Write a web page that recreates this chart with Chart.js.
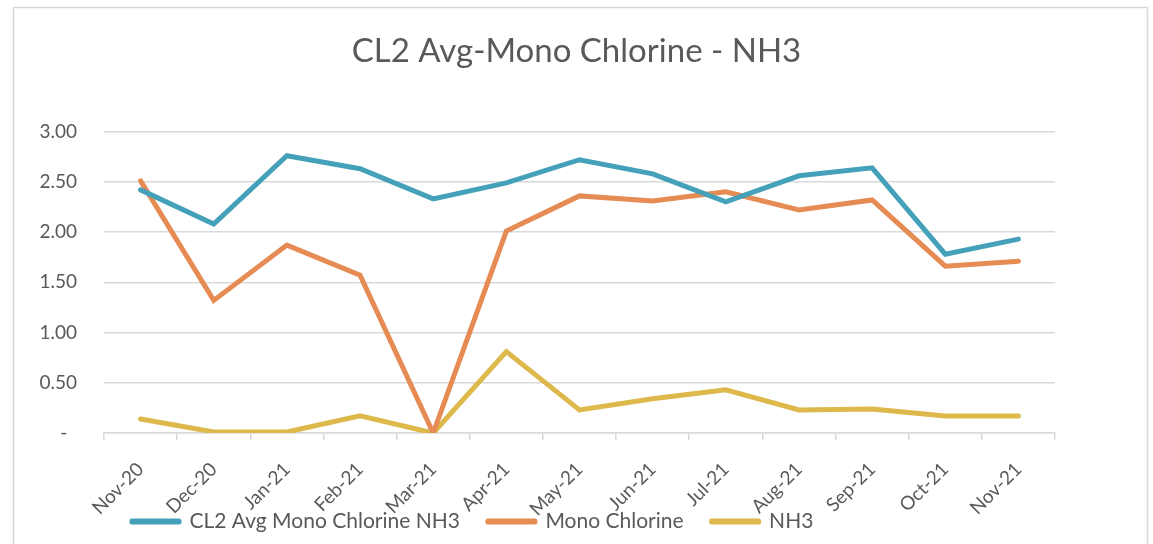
<!DOCTYPE html>
<html lang="en">
<head>
    <meta charset="UTF-8">
    <title>CL2 Avg-Mono Chlorine - NH3</title>
    <script src="https://cdn.jsdelivr.net/npm/chart.js"></script>
    <style>
        html, body { margin: 0; padding: 0; background: #fff; }
        #wrap { width: 1153px; height: 544px; }
    </style>
</head>
<body>
    <div id="wrap"><canvas id="chlorineChart" width="1153" height="544"></canvas></div>

    <script>
        // values
        const months = ['Nov-20', 'Dec-20', 'Jan-21', 'Feb-21', 'Mar-21', 'Apr-21', 'May-21',
                        'Jun-21', 'Jul-21', 'Aug-21', 'Sep-21', 'Oct-21', 'Nov-21'];
        const cl2Avg = [2.42, 2.08, 2.76, 2.63, 2.33, 2.49, 2.72, 2.58, 2.30, 2.56, 2.64, 1.78, 1.93];
        const monoChlorine = [2.51, 1.32, 1.87, 1.57, 0.00, 2.01, 2.36, 2.31, 2.40, 2.22, 2.32, 1.66, 1.71];
        const nh3 = [0.14, 0.01, 0.01, 0.17, 0.00, 0.81, 0.23, 0.34, 0.43, 0.23, 0.24, 0.17, 0.17];
        const yMin = 0, yMax = 3, yStep = 0.5;

        const textColor = '#595959';
        const gridColor = '#d9d9d9';
        const fontFamily = 'Lato, "Open Sans", sans-serif';

        // light frame around the chart, like the Excel chart area
        const frame = {
            id: 'frame',
            beforeDraw(chart) {
                const c = chart.ctx;
                c.save();
                c.fillStyle = '#fff';
                c.fillRect(0, 0, chart.width, chart.height);
                c.strokeStyle = gridColor;
                c.lineWidth = 1.5;
                c.strokeRect(13.5, 7.5, 1134, 600);
                c.restore();
            },
            // the rotated month labels run down into the legend strip, so don't clip them at the axis box
            afterLayout(chart) {
                chart.scales.x.bottom = chart.height;
            }
        };

        function series(label, data, color) {
            return {
                label: label,
                data: data,
                borderColor: color,
                backgroundColor: color,
                borderWidth: 5,
                borderCapStyle: 'round',
                borderJoinStyle: 'miter',
                pointRadius: 0,
                pointHoverRadius: 0,
                tension: 0
            };
        }

        const ctx = document.getElementById('chlorineChart').getContext('2d');
        new Chart(ctx, {
            type: 'line',
            data: {
                labels: months,
                datasets: [
                    series('CL2 Avg Mono Chlorine NH3', cl2Avg, '#44a1b9'),
                    series('Mono Chlorine', monoChlorine, '#e58b53'),
                    series('NH3', nh3, '#ddb84b')
                ]
            },
            plugins: [frame],
            options: {
                responsive: false,
                animation: false,
                layout: { padding: { left: 0, right: 0, top: 8, bottom: 2 } },
                plugins: {
                    title: {
                        display: true,
                        text: 'CL2 Avg-Mono Chlorine - NH3',
                        color: textColor,
                        font: { family: fontFamily, size: 33, weight: 'normal' },
                        padding: { top: 24, bottom: 60 }
                    },
                    legend: {
                        position: 'bottom',
                        align: 'start',
                        fullSize: false,
                        labels: {
                            color: textColor,
                            boxWidth: 47,
                            boxHeight: 1,
                            padding: 28,
                            font: { family: fontFamily, size: 21 },
                            // thin box + thick round-joined stroke = line swatch with rounded ends
                            generateLabels(chart) {
                                const items = Chart.defaults.plugins.legend.labels.generateLabels(chart);
                                items.forEach(it => { it.lineJoin = 'round'; it.lineWidth = 5; });
                                return items;
                            }
                        }
                    },
                    tooltip: { enabled: false }
                },
                scales: {
                    x: {
                        offset: true,
                        afterFit(scale) { scale.height = 50; },
                        border: { display: true, color: gridColor, width: 1.5 },
                        grid: {
                            offset: true,
                            drawOnChartArea: false,
                            drawTicks: true,
                            tickLength: 7,
                            color: gridColor,
                            lineWidth: 1.5
                        },
                        ticks: {
                            color: textColor,
                            minRotation: 45,
                            maxRotation: 45,
                            padding: 18,
                            autoSkip: false,
                            font: { family: fontFamily, size: 19 }
                        }
                    },
                    y: {
                        min: yMin,
                        max: yMax,
                        afterFit(scale) { scale.width = 104; },
                        border: { display: false },
                        grid: { color: gridColor, lineWidth: 1.5, drawTicks: false },
                        ticks: {
                            stepSize: yStep,
                            color: textColor,
                            padding: 27,
                            font: { family: fontFamily, size: 19 },
                            callback: function(value) {
                                return value === 0 ? '-  ' : value.toFixed(2);
                            }
                        }
                    },
                    // empty strip on the right so the plot ends where the original does
                    spacer: {
                        type: 'linear',
                        position: 'right',
                        min: yMin,
                        max: yMax,
                        afterFit(scale) { scale.width = 98; },
                        border: { display: false },
                        grid: { drawOnChartArea: false, drawTicks: false },
                        ticks: { display: false }
                    }
                }
            }
        });
    </script>
</body>
</html>
